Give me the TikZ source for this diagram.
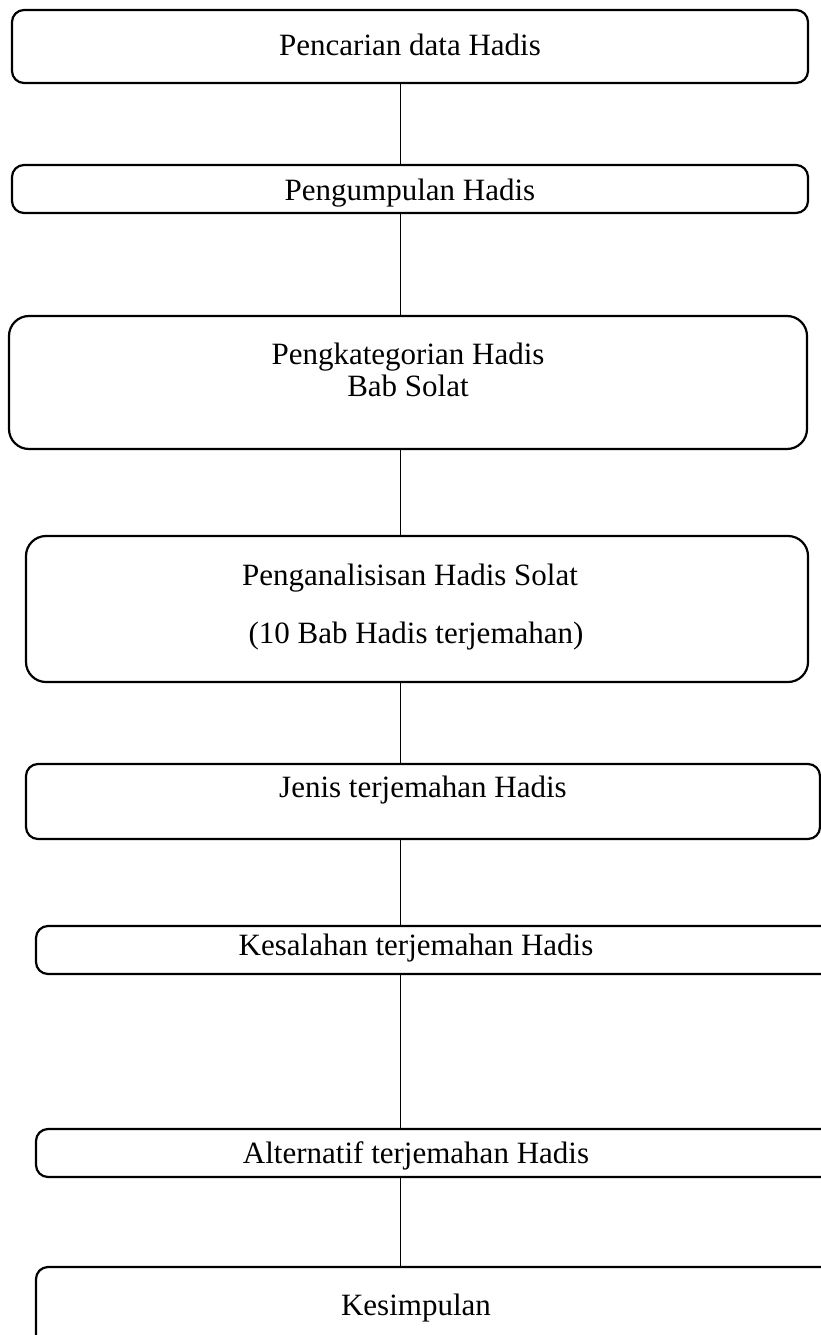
\documentclass[tikz,border=0pt]{standalone}
\usepackage{fontspec}
\setmainfont{Liberation Serif}
\begin{document}
\begin{tikzpicture}[x=1pt,y=-1pt,
  box/.style={draw, line width=2.2pt, rounded corners=12pt, inner sep=0pt},
  txt/.style={font=\fontsize{31}{31}\selectfont, anchor=base, inner sep=0pt},
  link/.style={draw, line width=0.9pt}]
\useasboundingbox (0,0) rectangle (821,1335);
\node[box, minimum width=796, minimum height=73] (n1) at (410,46.5) {};
\node[box, minimum width=796, minimum height=48] (n2) at (410,189) {};
\node[box, rounded corners=20pt, minimum width=798, minimum height=133] (n3) at (408,382.5) {};
\node[box, rounded corners=20pt, minimum width=782, minimum height=146] (n4) at (417,609) {};
\node[box, minimum width=794, minimum height=75] (n5) at (423,801.5) {};
\node[box, minimum width=800, minimum height=48] (n6) at (436,950) {};
\node[box, minimum width=800, minimum height=48] (n7) at (436,1153) {};
\node[box, minimum width=800, minimum height=90] (n8) at (436,1312) {};
\node[txt] (t1) at (410,56) {Pencarian data Hadis};
\node[txt] (t2) at (410,200) {Pengumpulan Hadis};
\node[txt] (t3a) at (408,364) {Pengkategorian Hadis};
\node[txt] (t3b) at (408,396) {Bab Solat};
\node[txt] (t4a) at (410,585) {Penganalisisan Hadis Solat};
\node[txt] (t4b) at (416,643) {(10 Bab Hadis terjemahan)};
\node[txt] (t5) at (423,797) {Jenis terjemahan Hadis};
\node[txt] (t6) at (416,955) {Kesalahan terjemahan Hadis};
\node[txt] (t7) at (416,1163) {Alternatif terjemahan Hadis};
\node[txt] (t8) at (416,1315) {Kesimpulan};
\path[link] (n1.south -| 400,0) -- (n2.north -| 400,0);
\path[link] (n2.south -| 400,0) -- (n3.north -| 400,0);
\path[link] (n3.south -| 400,0) -- (n4.north -| 400,0);
\path[link] (n4.south -| 400,0) -- (n5.north -| 400,0);
\path[link] (n5.south -| 400,0) -- (n6.north -| 400,0);
\path[link] (n6.south -| 400,0) -- (n7.north -| 400,0);
\path[link] (n7.south -| 400,0) -- (n8.north -| 400,0);
\end{tikzpicture}
\end{document}
